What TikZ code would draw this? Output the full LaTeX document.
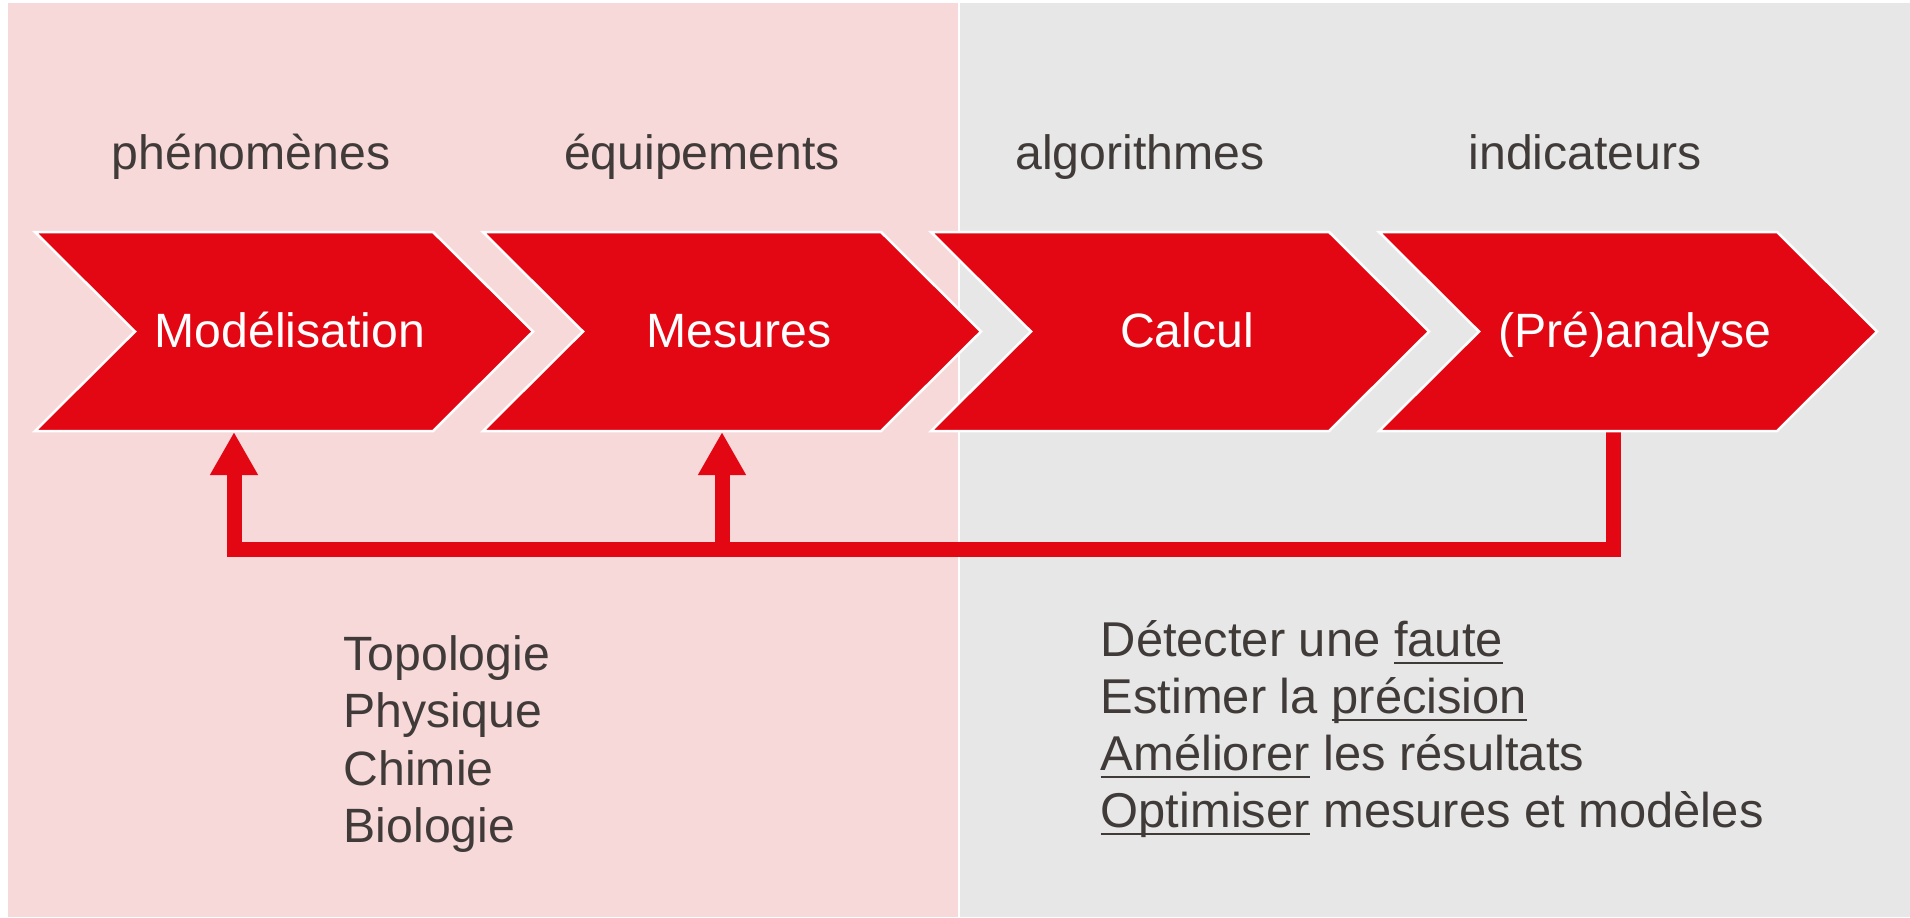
\documentclass[tikz,border=0pt]{standalone}
\usepackage{fontspec}
\setmainfont{Liberation Sans}
\usetikzlibrary{arrows.meta}

\definecolor{rouge}{HTML}{E30613}
\definecolor{rose}{HTML}{F8D9DA}
\definecolor{grisfond}{HTML}{E7E7E7}
\definecolor{gristexte}{HTML}{403B39}

% souligne a fixed distance under the baseline
\newcommand\souligne[1]{\setbox0\hbox{#1}\rlap{\rule[-2.4pt]{\wd0}{0.7pt}}\box0\relax}

\begin{document}
\begin{tikzpicture}[x=0.01cm,y=-0.01cm,
   every node/.style={font=\fontsize{13.7pt}{16.4pt}\selectfont},
   etape/.style={fill=rouge,draw=white,line width=0.025cm,line join=miter},
   titre/.style={text=white,anchor=base},
   legende/.style={text=gristexte,anchor=base},
   liste/.style={text=gristexte,anchor=base west,inner sep=0pt},
   retour/.style={draw=rouge,line width=0.15cm,line join=miter}]
   \useasboundingbox (0,0) rectangle (1910,917);
   \fill[rose] (8,3) rectangle (958,917);
   \fill[grisfond] (959.5,3) rectangle (1910,917);

   % feedback
   \coordinate (depart) at (1613,432);
   \coordinate (gauche) at (234,549.5);
   \coordinate (jonction) at (722,549.5);
   \coordinate (cible1) at (234,432);
   \coordinate (cible2) at (722,432);
   \draw[retour,-{Triangle[length=0.43cm,width=0.45cm]}] (depart) |- (gauche) -- (cible1);
   \draw[retour,-{Triangle[length=0.43cm,width=0.45cm]}] (jonction) -- (cible2);

   % chevrons
   \foreach \dx in {0,448,896,1344}
      \draw[etape] (35+\dx,232) -- (433+\dx,232) -- (533+\dx,331.5) -- (433+\dx,431)
         -- (35+\dx,431) -- (135+\dx,331.5) -- cycle;

   \node[titre] (mod) at (290,347) {Modélisation};
   \node[titre] (mes) at (739,347) {Mesures};
   \node[titre] (cal) at (1187,347) {Calcul};
   \node[titre] (ana) at (1635,347) {(Pré)analyse};

   \node[legende] (phen) at (251,169) {phénomènes};
   \node[legende] (equi) at (702,169) {équipements};
   \node[legende] (algo) at (1140,169) {algorithmes};
   \node[legende] (indi) at (1585,169) {indicateurs};

   \node[liste] (topo) at (343,670) {Topologie};
   \node[liste] (phys) at (343,727.5) {Physique};
   \node[liste] (chim) at (343,785) {Chimie};
   \node[liste] (bio) at (343,842.5) {Biologie};

   \begin{scope}[every node/.style={font=\fontsize{13.9pt}{16.6pt}\selectfont}]
   \node[liste] (faute) at (1100,656) {Détecter une \souligne{faute}};
   \node[liste] (prec) at (1100,713) {Estimer la \souligne{précision}};
   \node[liste] (amel) at (1100,770) {\souligne{Améliorer} les résultats};
   \node[liste] (opti) at (1100,827) {\souligne{Optimiser} mesures et modèles};
   \end{scope}
\end{tikzpicture}
\end{document}
